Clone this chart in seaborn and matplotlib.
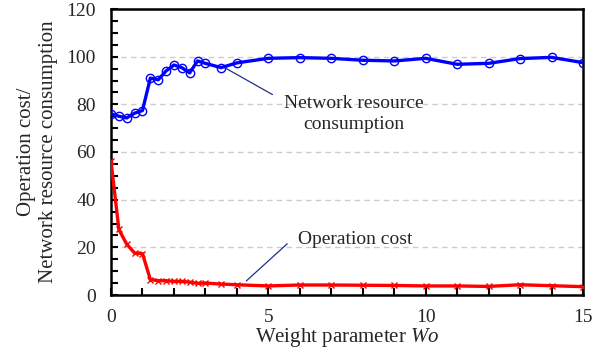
import numpy as np
import pandas as pd
import matplotlib
matplotlib.use("Agg")
import matplotlib.pyplot as plt
from matplotlib.ticker import MultipleLocator
import seaborn as sns

# weight parameter values
wo = [0, 0.25, 0.5, 0.75, 1.0, 1.25, 1.5, 1.75, 2.0, 2.25, 2.5, 2.75, 3.0, 3.5, 4,
      5, 6, 7, 8, 9, 10, 11, 12, 13, 14, 15]
network = [76.0, 75.0, 74.3, 76.3, 77.4, 91.0, 90.3, 94.0, 96.5, 95.4, 93.2, 98.2, 97.2,
           95.4, 97.4, 99.3, 99.6, 99.3, 98.5, 98.2, 99.3, 96.8, 97.2, 99.2, 99.7, 97.5]
op_cost = [56.2, 27.5, 21.3, 17.6, 17.4, 6.5, 6.0, 6.0, 5.7, 5.7, 5.4, 4.9, 5.0,
           4.6, 4.3, 3.8, 4.2, 4.2, 4.1, 4.0, 3.8, 3.8, 3.6, 4.3, 3.9, 3.5]

df = pd.DataFrame({"wo": wo, "network": network, "cost": op_cost})

sns.set_style("ticks")
plt.rcParams['font.family'] = ['Liberation Serif', 'DejaVu Serif']
plt.rcParams['mathtext.fontset'] = 'custom'
plt.rcParams['mathtext.it'] = 'Liberation Serif:italic'
plt.rcParams['mathtext.rm'] = 'Liberation Serif'

fig = plt.figure(figsize=(6.11, 3.6), dpi=100)
ax = fig.add_axes([111/611, 1-295/360, 472/611, 286/360])

for y in [20, 40, 60, 80, 100]:
    ax.axhline(y, color='#cccccc', linestyle=(0, (4, 3)), linewidth=1, zorder=0)

sns.lineplot(data=df, x='wo', y='network', ax=ax, color='#0000ff', linewidth=2.4,
             marker='o', markersize=6, markerfacecolor='none', markeredgecolor='#0000ff',
             markeredgewidth=1.0, zorder=3)
sns.lineplot(data=df, x='wo', y='cost', ax=ax, color='#ff0000', linewidth=2.4,
             marker='x', markersize=5, markeredgecolor='#ff0000',
             markeredgewidth=1.0, zorder=3)

ax.set_xlim(0, 15)
ax.set_ylim(0, 120)
ax.xaxis.set_major_locator(MultipleLocator(5))
ax.xaxis.set_minor_locator(MultipleLocator(1))
ax.yaxis.set_major_locator(MultipleLocator(20))
ax.yaxis.set_minor_locator(MultipleLocator(5))
ax.tick_params(which='both', direction='in', width=1.5, color='black',
               labelsize=14, top=False, right=False, length=5)
ax.tick_params(axis='x', which='major', pad=10)
ax.tick_params(axis='y', which='major', pad=11)
for s in ax.spines.values():
    s.set_linewidth(1.8)
    s.set_color('black')

ax.set_xlabel('Weight parameter $\\it{Wo}$', fontsize=15, labelpad=0)
ax.set_ylabel('Operation cost/\nNetwork resource consumption', fontsize=15,
              linespacing=1.2, labelpad=6)

ax.plot([3.6, 5.13], [95.5, 84.1], color='#1f2f8f', linewidth=0.9)
ax.text(7.72, 76.0, 'Network resource\nconsumption', ha='center', va='center',
        fontsize=14, linespacing=1.3)
ax.plot([4.3, 5.6], [5.9, 21.5], color='#1f2f8f', linewidth=0.9)
ax.text(7.75, 23.3, 'Operation cost', ha='center', va='center', fontsize=14)

fig.savefig('out.png', dpi=100)
